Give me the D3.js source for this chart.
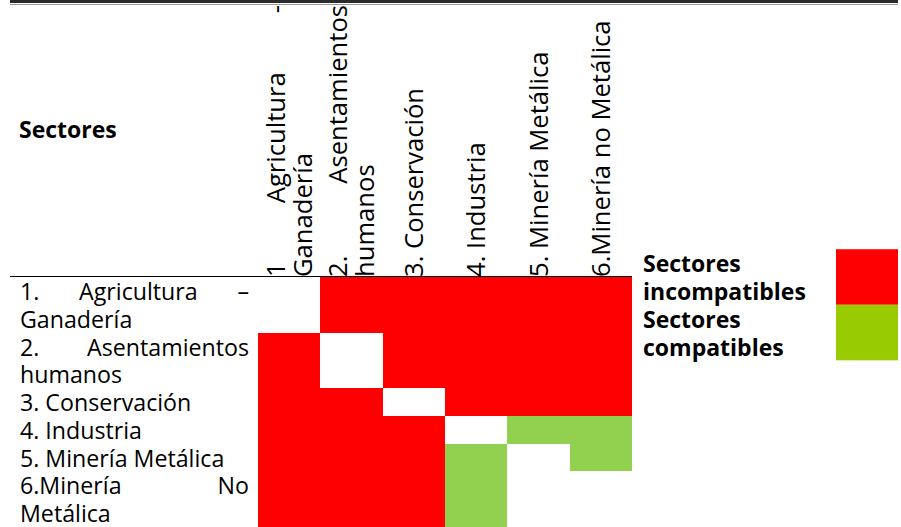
<!DOCTYPE html>
<html>
<head>
<meta charset="utf-8">
<script src="https://cdn.jsdelivr.net/npm/d3@7"></script>
<style>
  body { margin: 0; background: #fff; }
  text { font-family: "Open Sans", sans-serif; fill: #000; }
  .row-label { font-size: 23.2px; }
  .col-label { font-size: 25.6px; }
  .bold { font-weight: bold; font-size: 23px; }
</style>
</head>
<body>
<script>
// Sector names as they appear in the column headers (line breaks kept)
var colLabels = [
  ["1 Agricultura -", "Ganadería"],
  ["2. Asentamientos", "humanos"],
  ["3. Conservación"],
  ["4. Industria"],
  ["5. Minería Metálica"],
  ["6.Minería no Metálica"]
];

// Same sectors as row labels
var rowLabels = [
  ["1. Agricultura –", "Ganadería"],
  ["2. Asentamientos", "humanos"],
  ["3. Conservación"],
  ["4. Industria"],
  ["5. Minería Metálica"],
  ["6.Minería No", "Metálica"]
];

// 0 = blank, 1 = incompatible, 2 = compatible
var matrix = [
  [0, 1, 1, 1, 1, 1],
  [1, 0, 1, 1, 1, 1],
  [1, 1, 0, 1, 1, 1],
  [1, 1, 1, 0, 2, 2],
  [1, 1, 1, 2, 0, 2],
  [1, 1, 1, 2, 0, 0]
];

var legendLabels = [["Sectores", "incompatibles"], ["Sectores", "compatibles"]];

var svgWidth = 901;
var svgHeight = 527;

var cellColor = { 1: "#ff0000", 2: "#92d050" };
var legendColor = ["#ff0000", "#99cc00"];

var svg = d3.select("body")
  .append("svg")
  .attr("width", svgWidth)
  .attr("height", svgHeight);

// top double border
svg.append("rect").attr("x", 10).attr("y", 0).attr("width", 888).attr("height", 3).attr("fill", "#2b2b2b");
svg.append("line").attr("x1", 10).attr("x2", 898).attr("y1", 4.5).attr("y2", 4.5)
  .attr("stroke", "#9a9a9a").attr("stroke-width", 1);

// line grid for the body: every text line is the same height
var headerBottom = 277;
var lineCounts = rowLabels.map(d => d.length);
var totalLines = d3.sum(lineCounts);
var lineY = d3.scaleLinear().domain([0, totalLines]).range([headerBottom, svgHeight]);
var rowStart = [];
lineCounts.reduce((acc, n, i) => { rowStart[i] = acc; return acc + n; }, 0);

var xScale = d3.scaleBand()
  .domain(d3.range(colLabels.length))
  .range([258, 632]);

// write one line; if justified, spread the words across the given width
function addLine(parent, str, x0, y, width, justified, cls) {
  var t = parent.append("text").attr("class", cls).attr("y", y);
  var words = str.split(/\s+/);
  if (!justified || words.length < 2) {
    t.attr("x", x0).text(str);
    return t;
  }
  var spans = words.map(w => t.append("tspan").text(w));
  var widths = spans.map(s => s.node().getComputedTextLength());
  var gap = (width - d3.sum(widths)) / (words.length - 1);
  var x = x0;
  spans.forEach((s, i) => { s.attr("x", x); x += widths[i] + gap; });
  return t;
}

// header
svg.append("text").attr("class", "bold").attr("x", 19).attr("y", 138).text("Sectores");

// header rule
svg.append("line").attr("x1", 10).attr("x2", 632).attr("y1", headerBottom - 0.5).attr("y2", headerBottom - 0.5)
  .attr("stroke", "#000").attr("stroke-width", 1.2);

// cells
matrix.forEach(function(row, r) {
  svg.selectAll(".cell-" + r)
    .data(row.map((v, c) => ({ v: v, c: c })).filter(d => d.v > 0))
    .enter()
    .append("rect")
    .attr("x", d => xScale(d.c))
    .attr("y", lineY(rowStart[r]))
    .attr("width", xScale.bandwidth())
    .attr("height", lineY(rowStart[r] + lineCounts[r]) - lineY(rowStart[r]))
    .attr("fill", d => cellColor[d.v])
    .attr("shape-rendering", "crispEdges");
});

// rotated column headers
colLabels.forEach(function(lines, c) {
  var cx = xScale(c) + xScale.bandwidth() / 2;
  var g = svg.append("g").attr("transform", `translate(${cx}, ${headerBottom}) rotate(-90)`);
  lines.forEach(function(str, i) {
    var base = 9 + (i - (lines.length - 1) / 2) * 27;
    addLine(g, str, 0, base, 272, i < lines.length - 1, "col-label");
  });
});

// row labels
rowLabels.forEach(function(lines, r) {
  lines.forEach(function(str, i) {
    addLine(svg, str, 20, lineY(rowStart[r] + i) + 23, 229, i < lines.length - 1, "row-label");
  });
});

// legend
legendLabels.forEach(function(lines, k) {
  var start = -1 + k * 2;
  lines.forEach(function(str, i) {
    svg.append("text").attr("class", "bold").attr("x", 643)
      .attr("y", lineY(start + i) + 23).text(str);
  });
  svg.append("rect")
    .attr("x", 836)
    .attr("y", lineY(start))
    .attr("width", 62)
    .attr("height", lineY(start + 2) - lineY(start))
    .attr("fill", legendColor[k]);
});
</script>
</body>
</html>
